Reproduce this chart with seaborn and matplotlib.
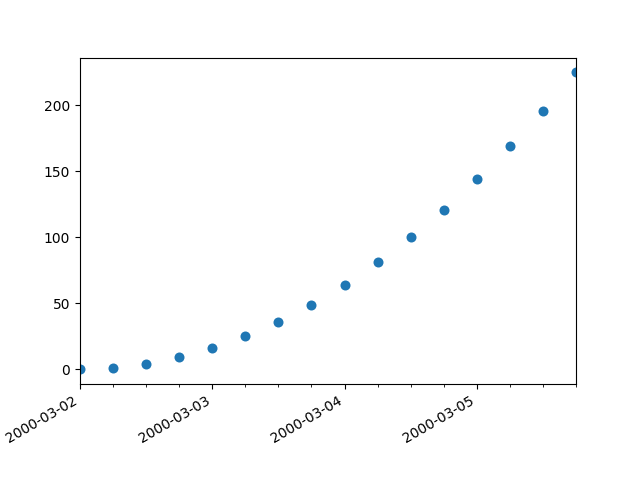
import matplotlib
matplotlib.use("Agg")
import matplotlib.pyplot as plt
import matplotlib.dates as mdates
import pandas as pd
import seaborn as sns

# 6-hourly timestamps and the values
times = pd.date_range("2000-03-02", periods=16, freq="6h")
values = [0, 1, 4, 9, 16, 25, 36, 49, 64, 81, 100, 121, 144, 169, 196, 225]

df = pd.DataFrame({"time": times, "value": values})

fig, ax = plt.subplots(figsize=(6.4, 4.8), dpi=100)
sns.scatterplot(data=df, x="time", y="value", ax=ax,
                color="#1f77b4", s=52, linewidth=0)

ax.set_xlim(times[0], times[-1])
ax.xaxis.set_major_locator(mdates.DayLocator())
ax.xaxis.set_major_formatter(mdates.DateFormatter("%Y-%m-%d"))
ax.xaxis.set_minor_locator(mdates.HourLocator(byhour=[0, 6, 12, 18]))
ax.set_xlabel("")
ax.set_ylabel("")

fig.autofmt_xdate()
plt.savefig("out.png", dpi=100)
